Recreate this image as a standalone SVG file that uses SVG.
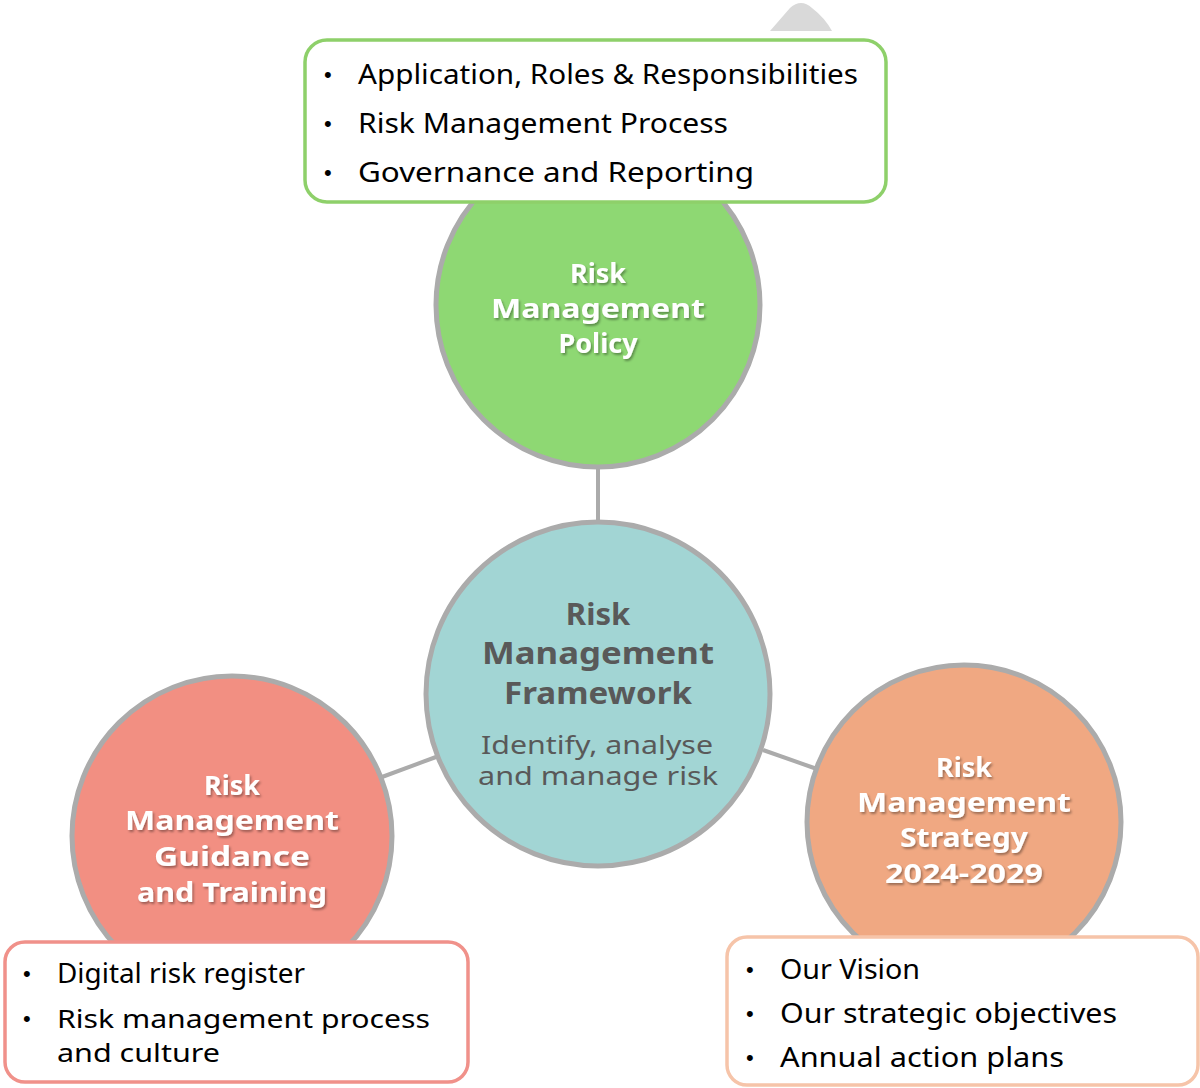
<svg xmlns="http://www.w3.org/2000/svg" width="1200" height="1088" viewBox="0 0 1200 1088">
<defs>
<filter id="sh" x="-10%" y="-20%" width="130%" height="160%">
<feDropShadow dx="1.5" dy="2" stdDeviation="1" flood-color="#000" flood-opacity="0.35"/>
</filter>
</defs>
<style>
.circ{stroke:#ababab;stroke-width:5}
.conn{stroke:#ababab;stroke-width:4;fill:none}
.wt{font-family:"Noto Sans","DejaVu Sans",sans-serif;font-weight:bold;font-size:27px;fill:#fff;text-anchor:middle}
.ct{font-family:"Noto Sans","DejaVu Sans",sans-serif;font-weight:bold;font-size:31px;fill:#595959;text-anchor:middle}
.cs{font-family:"Noto Sans","DejaVu Sans",sans-serif;font-size:25px;fill:#595959;text-anchor:middle}
.bt{font-family:"Noto Sans","DejaVu Sans",sans-serif;font-size:27px;fill:#000}
.bt2{font-family:"Noto Sans","DejaVu Sans",sans-serif;font-size:26px;fill:#000}
.bu{font-family:"Liberation Sans",sans-serif;font-size:22px;fill:#000}
.box{fill:#fff;stroke-width:3.5}
</style>
<rect width="1200" height="1088" fill="#fff"/>
<path d="M770,31 L790,8 Q801,-2 812,8 Q825,18 832,31 Z" fill="#d9d9d9"/>
<g id="connectors">
<line class="conn" x1="598" y1="467" x2="598" y2="522"/>
<line class="conn" x1="382" y1="777" x2="436" y2="757"/>
<line class="conn" x1="763" y1="750" x2="817" y2="769"/>
</g>
<g id="policy">
<circle class="circ" cx="598" cy="305" r="162" fill="#8ed873"/>
<g filter="url(#sh)">
<text class="wt" x="598" y="283">Risk</text>
<text class="wt" x="598" y="318" textLength="214" lengthAdjust="spacingAndGlyphs">Management</text>
<text class="wt" x="598" y="353">Policy</text>
</g>
</g>
<g id="framework">
<circle class="circ" cx="598" cy="694" r="172" fill="#a2d5d4"/>
<text class="ct" x="598" y="625">Risk</text>
<text class="ct" x="598" y="664" textLength="232" lengthAdjust="spacingAndGlyphs">Management</text>
<text class="ct" x="598" y="704" textLength="188" lengthAdjust="spacingAndGlyphs">Framework</text>
<text class="cs" x="597" y="754" textLength="232" lengthAdjust="spacingAndGlyphs">Identify, analyse</text>
<text class="cs" x="598" y="785" textLength="240" lengthAdjust="spacingAndGlyphs">and manage risk</text>
</g>
<g id="guidance">
<circle class="circ" cx="232" cy="836" r="160" fill="#f28f82"/>
<g filter="url(#sh)">
<text class="wt" x="232" y="795">Risk</text>
<text class="wt" x="232" y="830" textLength="214" lengthAdjust="spacingAndGlyphs">Management</text>
<text class="wt" x="232" y="866" textLength="156" lengthAdjust="spacingAndGlyphs">Guidance</text>
<text class="wt" x="232" y="902" textLength="190" lengthAdjust="spacingAndGlyphs">and Training</text>
</g>
</g>
<g id="strategy">
<circle class="circ" cx="964" cy="822" r="157" fill="#f0a882"/>
<g filter="url(#sh)">
<text class="wt" x="964" y="777">Risk</text>
<text class="wt" x="964" y="812" textLength="214" lengthAdjust="spacingAndGlyphs">Management</text>
<text class="wt" x="964" y="847" textLength="128" lengthAdjust="spacingAndGlyphs">Strategy</text>
<text class="wt" x="964" y="883" textLength="158" lengthAdjust="spacingAndGlyphs">2024-2029</text>
</g>
</g>
<g id="policy-box">
<rect class="box" x="305" y="40" width="581" height="162" rx="22" stroke="#8ed06a"/>
<text class="bu" x="324" y="82">•</text>
<text class="bu" x="324" y="131">•</text>
<text class="bu" x="324" y="180">•</text>
<text class="bt" x="358" y="84" textLength="500" lengthAdjust="spacingAndGlyphs">Application, Roles &amp; Responsibilities</text>
<text class="bt" x="358" y="133" textLength="370" lengthAdjust="spacingAndGlyphs">Risk Management Process</text>
<text class="bt" x="358" y="182" textLength="396" lengthAdjust="spacingAndGlyphs">Governance and Reporting</text>
</g>
<g id="guidance-box">
<rect class="box" x="5" y="942" width="463" height="140" rx="20" stroke="#f0918a"/>
<text class="bu" x="23" y="981">•</text>
<text class="bu" x="23" y="1026">•</text>
<text class="bt" x="57" y="983" textLength="248" lengthAdjust="spacingAndGlyphs">Digital risk register</text>
<text class="bt2" x="57" y="1028" textLength="373" lengthAdjust="spacingAndGlyphs">Risk management process</text>
<text class="bt2" x="57" y="1062" textLength="163" lengthAdjust="spacingAndGlyphs">and culture</text>
</g>
<g id="strategy-box">
<rect class="box" x="727" y="937" width="471" height="148" rx="20" stroke="#f6c4a9"/>
<text class="bu" x="746" y="977">•</text>
<text class="bu" x="746" y="1021">•</text>
<text class="bu" x="746" y="1065">•</text>
<text class="bt" x="780" y="979" textLength="140" lengthAdjust="spacingAndGlyphs">Our Vision</text>
<text class="bt" x="780" y="1023" textLength="337" lengthAdjust="spacingAndGlyphs">Our strategic objectives</text>
<text class="bt" x="780" y="1067" textLength="284" lengthAdjust="spacingAndGlyphs">Annual action plans</text>
</g>
</svg>
